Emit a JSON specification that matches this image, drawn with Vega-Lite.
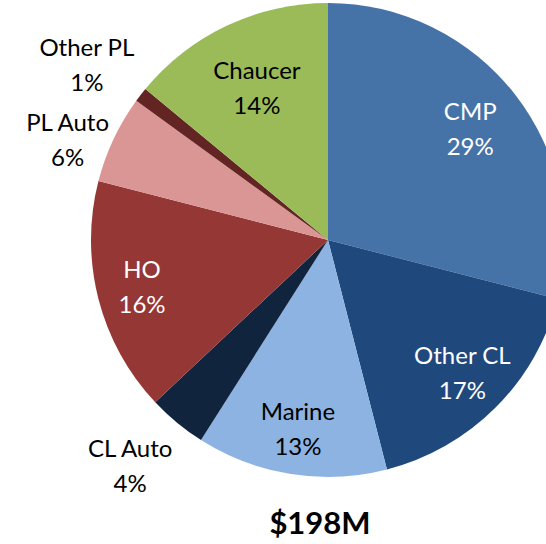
{
  "$schema": "https://vega.github.io/schema/vega-lite/v6.json",
  "width": 546,
  "height": 544,
  "padding": 0,
  "autosize": {"type": "none"},
  "background": "white",
  "title": {"text": "$198M", "orient": "bottom", "anchor": "middle", "dx": 47, "dy": -34, "offset": 0, "fontSize": 31, "fontWeight": "bold", "font": "Lato", "color": "black"},
  "data": {"values": [
    {"category": "CMP", "value": 29, "order": 1},
    {"category": "Other CL", "value": 17, "order": 2},
    {"category": "Marine", "value": 13, "order": 3},
    {"category": "CL Auto", "value": 4, "order": 4},
    {"category": "HO", "value": 16, "order": 5},
    {"category": "PL Auto", "value": 6, "order": 6},
    {"category": "Other PL", "value": 1, "order": 7},
    {"category": "Chaucer", "value": 14, "order": 8}
  ]},
  "transform": [
    {"calculate": "[datum.category, datum.value + '%']", "as": "label"}
  ],
  "encoding": {
    "theta": {"field": "value", "type": "quantitative", "stack": true},
    "order": {"field": "order", "type": "quantitative"}
  },
  "layer": [
    {
      "mark": {"type": "arc", "x": 328, "y": 240, "outerRadius": 237, "stroke": null},
      "encoding": {
        "color": {"field": "category", "type": "nominal", "legend": null,
          "scale": {"domain": ["CMP", "Other CL", "Marine", "CL Auto", "HO", "PL Auto", "Other PL", "Chaucer"],
                    "range": ["#4673A7", "#1F497D", "#8DB3E2", "#10243E", "#953735", "#D99694", "#632523", "#9BBB59"]}}
      }
    },
    {
      "mark": {"type": "text", "x": 328, "y": 240, "dy": -17,
        "radius": {"expr": "datum.category === 'Chaucer' ? 167 : (datum.category === 'HO' || datum.category === 'Marine') ? 192 : datum.category === 'Other CL' ? 190 : 180"},
        "font": "Lato", "fontSize": 24, "lineHeight": 35, "align": "center", "baseline": "middle"},
      "encoding": {
        "text": {"condition": {"test": "indexof(['Other PL','PL Auto','CL Auto'], datum.category) < 0", "field": "label"}, "value": ""},
        "color": {"condition": {"test": "indexof(['CMP','Other CL','HO'], datum.category) >= 0", "value": "white"}, "value": "black"}
      }
    },
    {
      "mark": {"type": "text", "x": 328, "y": 240, "radius": 290,
        "dx": {"expr": "datum.category === 'Other PL' ? -12 : datum.category === 'PL Auto' ? 2 : -13"},
        "dy": {"expr": "datum.category === 'Other PL' ? -13 : datum.category === 'PL Auto' ? 7 : -13"},
        "font": "Lato", "fontSize": 24, "lineHeight": 35, "align": "center", "baseline": "middle", "color": "black"},
      "encoding": {
        "text": {"condition": {"test": "indexof(['Other PL','PL Auto','CL Auto'], datum.category) >= 0", "field": "label"}, "value": ""}
      }
    }
  ],
  "config": {"view": {"stroke": null}}
}
